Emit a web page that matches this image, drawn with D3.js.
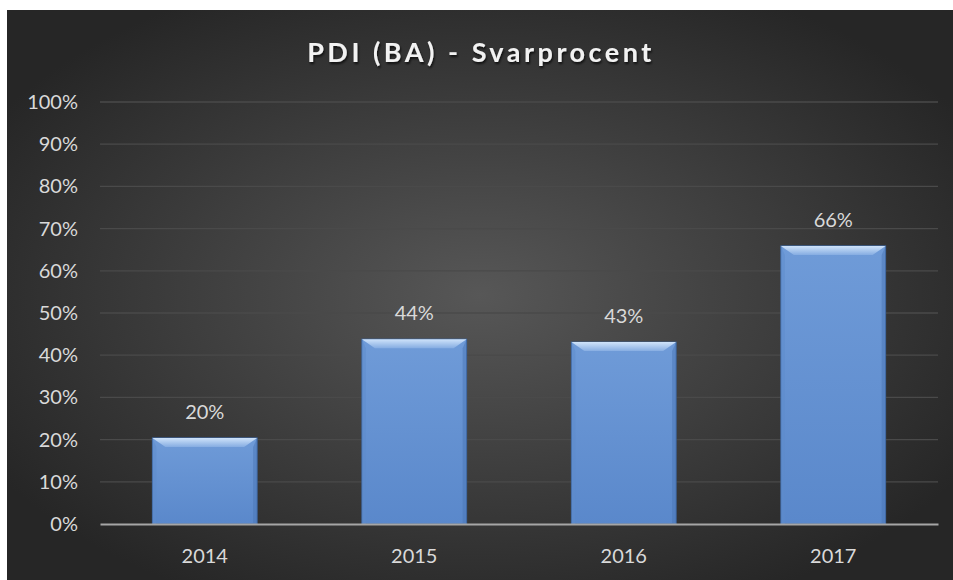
<!DOCTYPE html>
<html>
<head>
<meta charset="utf-8">
<script src="https://cdn.jsdelivr.net/npm/d3@7"></script>
<style>
  body { margin: 0; background: #fff; }
  text { font-family: Lato, "Open Sans", sans-serif; }
</style>
</head>
<body>
<script>
// chart data
let years = ["2014", "2015", "2016", "2017"];
let rates = [0.204, 0.438, 0.431, 0.659];
let yTicks = [0, 0.1, 0.2, 0.3, 0.4, 0.5, 0.6, 0.7, 0.8, 0.9, 1.0];

let W = 953, H = 580;
let margin = {top: 102, right: 15, bottom: 56, left: 100};

let svg = d3.select("body").append("svg")
	.attr("width", W)
	.attr("height", H);

let defs = svg.append("defs");

// dark background, lighter in the middle
let bg = defs.append("radialGradient").attr("id", "bg")
	.attr("cx", "50%").attr("cy", "50%").attr("r", "60%");
bg.append("stop").attr("offset", "0%").attr("stop-color", "#575757");
bg.append("stop").attr("offset", "100%").attr("stop-color", "#262626");

// bar fill
let barGrad = defs.append("linearGradient").attr("id", "barFill")
	.attr("x1", 0).attr("y1", 0).attr("x2", 0).attr("y2", 1);
barGrad.append("stop").attr("offset", "0%").attr("stop-color", "#6f9bd8");
barGrad.append("stop").attr("offset", "100%").attr("stop-color", "#5a88cb");

let bevelTop = defs.append("linearGradient").attr("id", "bevelTop")
	.attr("x1", 0).attr("y1", 0).attr("x2", 0).attr("y2", 1);
bevelTop.append("stop").attr("offset", "0%").attr("stop-color", "#cfe3fa");
bevelTop.append("stop").attr("offset", "100%").attr("stop-color", "#86ade2");

let shadow = defs.append("filter").attr("id", "tshadow");
shadow.append("feDropShadow").attr("dx", 1).attr("dy", 2).attr("stdDeviation", 1.2)
	.attr("flood-color", "#000").attr("flood-opacity", 0.7);

svg.append("rect")
	.attr("x", 7).attr("y", 10)
	.attr("width", W - 7).attr("height", H - 10)
	.attr("fill", "url(#bg)");

let width = W - margin.left - margin.right,
	height = 524 - margin.top;

let g = svg.append("g").attr("transform", "translate(" + margin.left + "," + margin.top + ")");

let x = d3.scaleBand()
	.domain(years)
	.range([0, width])
	.paddingInner(0.5)
	.paddingOuter(0.25);

let y = d3.scaleLinear()
	.domain([0, 1])
	.range([height, 0]);

// gridlines
g.selectAll(".grid")
	.data(yTicks.slice(1))
	.enter().append("line")
	.attr("x1", 0).attr("x2", width)
	.attr("y1", d => y(d)).attr("y2", d => y(d))
	.attr("stroke", "#4a4a4a")
	.attr("stroke-width", 1.3);

// y labels
let yAxis = d3.axisLeft(y).tickValues(yTicks).tickFormat(d3.format(".0%")).tickSize(0).tickPadding(22);
g.append("g").call(yAxis)
	.call(a => a.select(".domain").remove())
	.selectAll("text")
	.attr("fill", "#d9d9d9")
	.attr("font-size", "20px");

// bars
let bars = g.selectAll(".bar")
	.data(years)
	.enter().append("g");

bars.append("rect")
	.attr("x", d => x(d))
	.attr("y", (d, i) => y(rates[i]))
	.attr("width", x.bandwidth())
	.attr("height", (d, i) => height - y(rates[i]))
	.attr("fill", "url(#barFill)")
	.attr("stroke", "#3d659e")
	.attr("stroke-width", 1);

// bevel edges
let bv = 9, sv = 4;
bars.append("path")
	.attr("d", (d, i) => {
		let x0 = x(d), t = y(rates[i]);
		return "M" + x0 + "," + t + "L" + (x0 + sv) + "," + (t + bv) + "L" + (x0 + sv) + "," + height + "L" + x0 + "," + height + "Z";
	})
	.attr("fill", "#5e8bcb").attr("opacity", 0.5);
bars.append("path")
	.attr("d", (d, i) => {
		let x1 = x(d) + x.bandwidth(), t = y(rates[i]);
		return "M" + x1 + "," + t + "L" + (x1 - sv) + "," + (t + bv) + "L" + (x1 - sv) + "," + height + "L" + x1 + "," + height + "Z";
	})
	.attr("fill", "#4a76b5").attr("opacity", 0.5);
bars.append("path")
	.attr("d", (d, i) => {
		let x0 = x(d), x1 = x(d) + x.bandwidth(), t = y(rates[i]);
		return "M" + x0 + "," + t + "L" + x1 + "," + t + "L" + (x1 - bv - 4) + "," + (t + bv) + "L" + (x0 + bv + 4) + "," + (t + bv) + "Z";
	})
	.attr("fill", "url(#bevelTop)");

// value labels
bars.append("text")
	.attr("x", d => x(d) + x.bandwidth() / 2)
	.attr("y", (d, i) => y(rates[i]) - 19)
	.attr("text-anchor", "middle")
	.attr("fill", "#d9d9d9")
	.attr("font-size", "20px")
	.text((d, i) => d3.format(".0%")(rates[i]));

// x axis
let xAxis = d3.axisBottom(x).tickSize(0);
g.append("g")
	.attr("transform", "translate(0," + height + ")")
	.call(xAxis)
	.call(a => a.select(".domain").attr("stroke", "#a6a6a6").attr("stroke-width", 2))
	.selectAll("text")
	.attr("y", 39)
	.attr("dy", 0)
	.attr("fill", "#d9d9d9")
	.attr("font-size", "20px");

// title
svg.append("text")
	.attr("x", 481)
	.attr("y", 62)
	.attr("text-anchor", "middle")
	.attr("fill", "#f2f2f2")
	.attr("font-size", "27px")
	.attr("font-weight", "bold")
	.attr("letter-spacing", "3.5px")
	.attr("filter", "url(#tshadow)")
	.text("PDI (BA) - Svarprocent");
</script>
</body>
</html>
